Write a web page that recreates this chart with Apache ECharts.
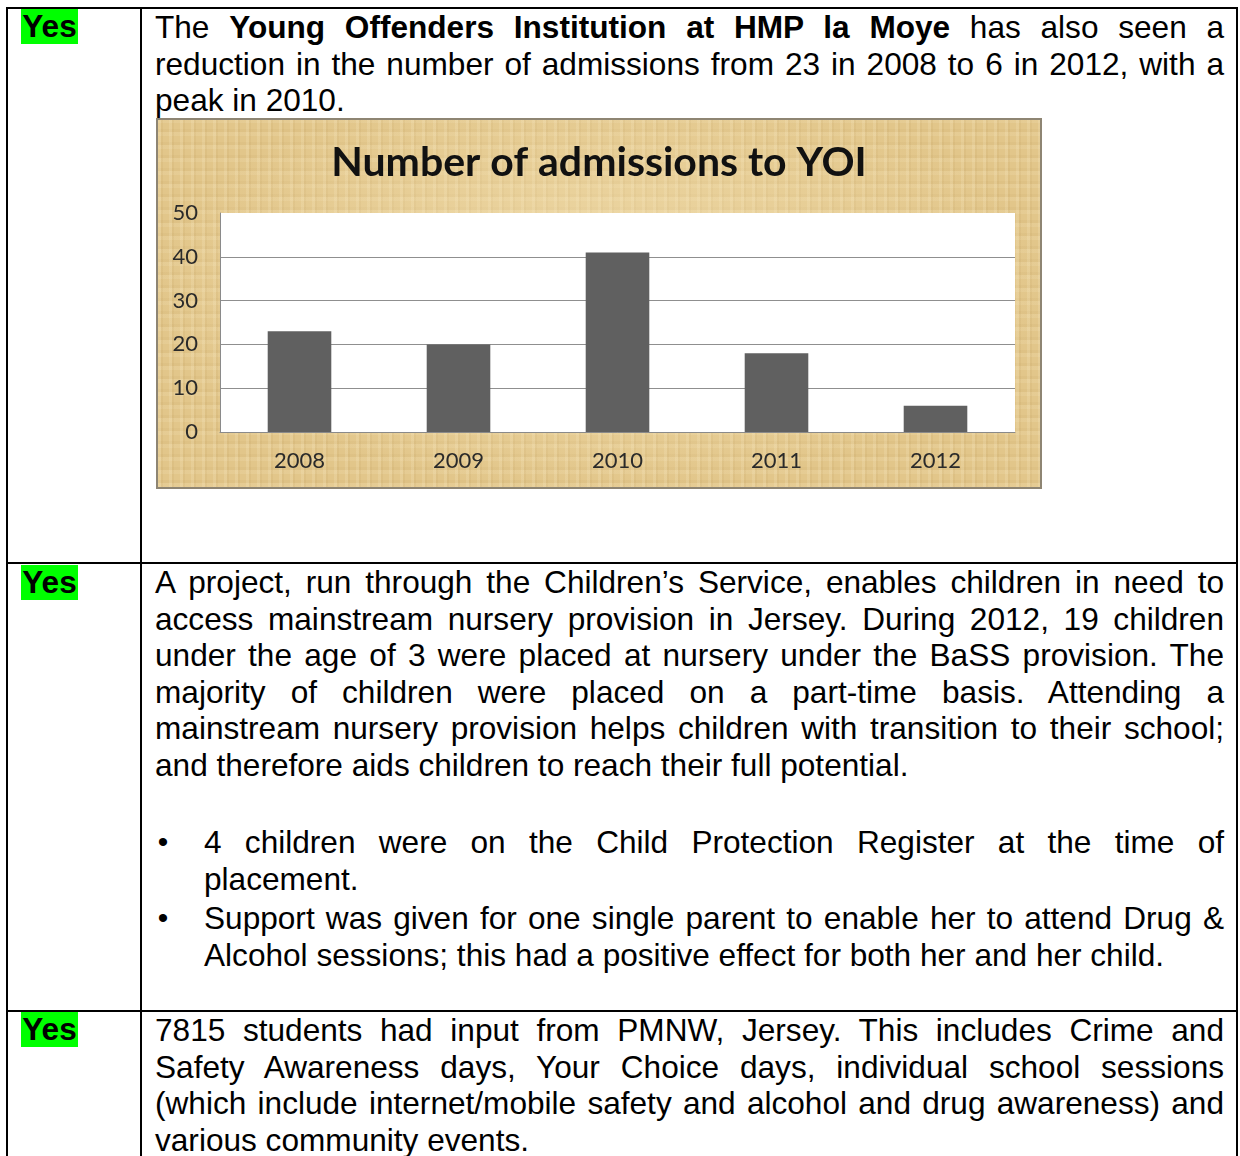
<!DOCTYPE html>
<html>
<head>
<meta charset="utf-8">
<script src="https://cdn.jsdelivr.net/npm/echarts@6/dist/echarts.min.js"></script>
<style>
  html, body { margin: 0; padding: 0; background: #fff; }
  body { width: 1240px; height: 1156px; overflow: hidden; position: relative;
         font-family: "Liberation Sans", Arial, sans-serif; font-size: 31.6px; color: #000; }
  .rule { position: absolute; background: #000; }
  .yes { position: absolute; left: 21px; width: 57px; height: 35px; line-height: 35px;
         background: #00ff00; font-weight: bold; text-align: center; }
  .para { position: absolute; left: 155px; width: 1069px; }
  .ln { height: 36.6px; line-height: 36.6px; }
  .j { text-align: justify; text-align-last: justify; }
  .bul { position: absolute; left: 155px; width: 1069px; }
  .bul .dot { position: absolute; left: 0; width: 16px; text-align: center; font-size: 30px; }
  .bul .txt { margin-left: 49px; }
  #frame { position: absolute; left: 156px; top: 118px; width: 886px; height: 371px;
           box-sizing: border-box; border: 2px solid #8e8573;
           background-color: #e2c68a;
           background-image:
             radial-gradient(ellipse at 50% 45%, rgba(248,232,190,0.6) 0%, rgba(248,232,190,0) 72%),
             repeating-linear-gradient(90deg, rgba(255,245,215,0.16) 0px, rgba(255,245,215,0.16) 3px, rgba(150,110,40,0.07) 3px, rgba(150,110,40,0.07) 5px, rgba(255,245,215,0) 5px, rgba(255,245,215,0) 11px),
             repeating-linear-gradient(0deg, rgba(255,245,215,0.12) 0px, rgba(255,245,215,0.12) 4px, rgba(150,110,40,0.05) 4px, rgba(150,110,40,0.05) 7px, rgba(255,245,215,0) 7px, rgba(255,245,215,0) 13px); }
  #chart { width: 882px; height: 367px; }
</style>
</head>
<body>
<!-- table rules -->
<div class="rule" style="left:6px;top:7px;width:1232px;height:2px"></div>
<div class="rule" style="left:6px;top:7px;width:2px;height:1160px"></div>
<div class="rule" style="left:140px;top:7px;width:2px;height:1160px"></div>
<div class="rule" style="left:1236px;top:7px;width:2px;height:1160px"></div>
<div class="rule" style="left:6px;top:562px;width:1232px;height:2px"></div>
<div class="rule" style="left:6px;top:1010px;width:1232px;height:2px"></div>

<div class="yes" style="top:9px">Yes</div>
<div class="yes" style="top:565px">Yes</div>
<div class="yes" style="top:1012px">Yes</div>

<div class="para" style="top:9px">
  <div class="ln j">The <b>Young Offenders Institution at HMP la Moye</b> has also seen a</div>
  <div class="ln j">reduction in the number of admissions from 23 in 2008 to 6 in 2012, with a</div>
  <div class="ln">peak in 2010.</div>
</div>

<div id="frame"><div id="chart"></div></div>

<div class="para" style="top:564px">
  <div class="ln j">A project, run through the Children’s Service, enables children in need to</div>
  <div class="ln j">access mainstream nursery provision in Jersey. During 2012, 19 children</div>
  <div class="ln j">under the age of 3 were placed at nursery under the BaSS provision. The</div>
  <div class="ln j">majority of children were placed on a part-time basis. Attending a</div>
  <div class="ln j">mainstream nursery provision helps children with transition to their school;</div>
  <div class="ln">and therefore aids children to reach their full potential.</div>
</div>

<div class="bul" style="top:824px">
  <div class="dot ln">•</div>
  <div class="txt">
    <div class="ln j">4 children were on the Child Protection Register at the time of</div>
    <div class="ln">placement.</div>
  </div>
</div>
<div class="bul" style="top:900px">
  <div class="dot ln">•</div>
  <div class="txt">
    <div class="ln j">Support was given for one single parent to enable her to attend Drug &amp;</div>
    <div class="ln">Alcohol sessions; this had a positive effect for both her and her child.</div>
  </div>
</div>

<div class="para" style="top:1012px">
  <div class="ln j">7815 students had input from PMNW, Jersey. This includes Crime and</div>
  <div class="ln j">Safety Awareness days, Your Choice days, individual school sessions</div>
  <div class="ln j">(which include internet/mobile safety and alcohol and drug awareness) and</div>
  <div class="ln">various community events.</div>
</div>

<script>
const years = ['2008', '2009', '2010', '2011', '2012']
const admissions = [23, 20, 41, 18, 6]
const chartTitle = 'Number of admissions to YOI'

const labelFont = 'Lato, "Open Sans", sans-serif'

const chart = echarts.init(document.getElementById('chart'), null, { renderer: 'canvas' })
chart.setOption({
  backgroundColor: 'transparent',
  animation: false,
  title: {
    text: chartTitle,
    left: 'center',
    top: 17,
    textStyle: {
      fontFamily: labelFont,
      fontWeight: 'bold',
      fontSize: 41,
      color: '#111'
    }
  },
  grid: {
    left: 62,
    right: 25,
    top: 93,
    bottom: 55,
    show: true,
    backgroundColor: '#ffffff',
    borderWidth: 0
  },
  xAxis: {
    type: 'category',
    data: years,
    axisTick: { show: false },
    axisLine: { lineStyle: { color: '#8a8a8a', width: 1 } },
    axisLabel: {
      margin: 18,
      fontFamily: labelFont,
      fontSize: 22,
      color: '#2a2a2a'
    }
  },
  yAxis: {
    type: 'value',
    min: 0,
    max: 50,
    interval: 10,
    axisTick: { show: false },
    axisLine: { show: true, lineStyle: { color: '#8a8a8a', width: 1 } },
    axisLabel: {
      margin: 22,
      fontFamily: labelFont,
      fontSize: 22,
      color: '#2a2a2a'
    },
    splitLine: {
      showMaxLine: false,
      lineStyle: { color: '#8f8f8f', width: 1 }
    }
  },
  series: [{
    type: 'bar',
    data: admissions,
    barWidth: '40%',
    itemStyle: { color: '#606060' }
  }]
})
</script>
</body>
</html>
